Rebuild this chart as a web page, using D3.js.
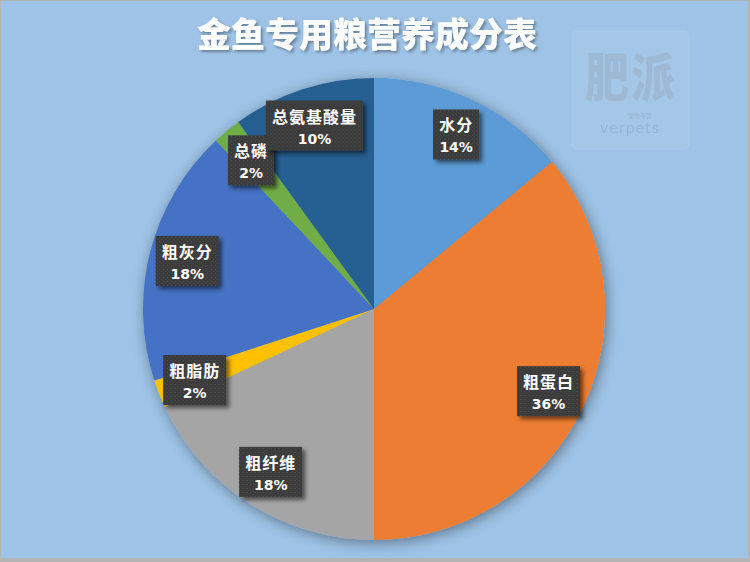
<!DOCTYPE html>
<meta charset="utf-8">
<head>
<style>
body { margin: 0; background: #b4b4b4; }
svg { display: block; }
.title {
  font-family: "Noto Sans CJK SC", sans-serif;
  font-weight: 900;
  font-size: 34px;
  fill: #fff;
  text-anchor: middle;
}
.lbl text {
  font-family: "Noto Sans CJK SC", sans-serif;
  font-weight: 700;
  fill: #fff;
  text-anchor: middle;
}
.lbl .name { font-size: 16px; letter-spacing: 1px; }
.lbl .pct { font-size: 14px; font-family: "DejaVu Sans", sans-serif; }
.wm text { font-family: "Noto Sans CJK SC", sans-serif; text-anchor: middle; }
</style>
</head>
<body>
<svg width="750" height="562"></svg>
<script src="https://cdn.jsdelivr.net/npm/d3@7"></script>
<script>

var names = ["水分", "粗蛋白", "粗纤维", "粗脂肪", "粗灰分", "总磷", "总氨基酸量"],
    values = [14, 36, 18, 2, 18, 2, 10],
    colors = ["#5b9bd5", "#ed7d31", "#a5a5a5", "#ffc000", "#4472c4", "#70ad47", "#255e91"];

var data = names.map(function(n, i) { return { name: n, value: values[i] }; });

var svg = d3.select("svg"),
    width = +svg.attr("width"),
    height = +svg.attr("height");

var defs = svg.append("defs");

var glow = defs.append("filter").attr("id", "glow")
    .attr("x", "-20%").attr("y", "-20%").attr("width", "140%").attr("height", "140%");
glow.append("feGaussianBlur").attr("in", "SourceAlpha").attr("stdDeviation", 7).attr("result", "b");
glow.append("feOffset").attr("in", "b").attr("dx", 2).attr("dy", 3).attr("result", "o");
glow.append("feComponentTransfer").attr("in", "o").attr("result", "s")
  .append("feFuncA").attr("type", "linear").attr("slope", 0.4);
var gm = glow.append("feMerge");
gm.append("feMergeNode").attr("in", "s");
gm.append("feMergeNode").attr("in", "SourceGraphic");

var tshadow = defs.append("filter").attr("id", "tshadow")
    .attr("x", "-10%").attr("y", "-30%").attr("width", "120%").attr("height", "160%");
tshadow.append("feDropShadow").attr("dx", 2).attr("dy", 2).attr("stdDeviation", 1.5)
    .attr("flood-color", "#000").attr("flood-opacity", 0.35);

var boxShadow = defs.append("filter").attr("id", "bshadow")
    .attr("x", "-20%").attr("y", "-20%").attr("width", "150%").attr("height", "150%");
boxShadow.append("feDropShadow").attr("dx", 3).attr("dy", 3).attr("stdDeviation", 2)
    .attr("flood-color", "#000").attr("flood-opacity", 0.55);

var pat = defs.append("pattern").attr("id", "dots")
    .attr("width", 4).attr("height", 4).attr("patternUnits", "userSpaceOnUse");
pat.append("rect").attr("width", 4).attr("height", 4).attr("fill", "#3a3a3a");
pat.append("rect").attr("width", 1).attr("height", 1).attr("fill", "#555");
pat.append("rect").attr("x", 2).attr("y", 2).attr("width", 1).attr("height", 1).attr("fill", "#4b4b4b");

// background
svg.append("rect")
    .attr("x", 1).attr("y", 1)
    .attr("width", width - 3).attr("height", height - 5)
    .attr("fill", "#9ec3e6");

// watermark
var wm = svg.append("g").attr("class", "wm").attr("opacity", 0.55);
wm.append("rect")
    .attr("x", 572).attr("y", 31).attr("width", 117).attr("height", 118).attr("rx", 5)
    .attr("fill", "#a9cbea").attr("stroke", "#b3d1ee");
wm.append("text")
    .attr("transform", "translate(631,97) scale(1,1.2)")
    .attr("font-size", 44).attr("font-weight", 900).attr("fill", "#9fb2c6")
    .attr("letter-spacing", 2).text("肥派");
wm.append("text").attr("x", 640).attr("y", 118)
    .attr("font-size", 6).attr("fill", "#8fa6bd").text("宠物专营");
wm.append("text").attr("x", 630).attr("y", 133)
    .attr("font-size", 14).attr("fill", "#8fa8c2").attr("letter-spacing", 1)
    .style("font-family", "DejaVu Sans").text("verpets");

// title
svg.append("text")
    .attr("class", "title")
    .attr("x", 367).attr("y", 47)
    .attr("filter", "url(#tshadow)")
    .text("金鱼专用粮营养成分表");

var cx = 374, cy = 309, radius = 231;

var pie = d3.pie().sort(null).value(function(d) { return d.value; });
var arcs = pie(data);

var arc = d3.arc().innerRadius(0).outerRadius(radius);
var labelArc = d3.arc().innerRadius(radius * 0.835).outerRadius(radius * 0.835);

var g = svg.append("g").attr("transform", "translate(" + cx + "," + cy + ")");

g.append("g").attr("filter", "url(#glow)")
  .selectAll("path")
    .data(arcs)
  .enter().append("path")
    .attr("d", arc)
    .attr("fill", function(d, i) { return colors[i]; });

var lbl = g.selectAll(".lbl")
    .data(arcs)
  .enter().append("g")
    .attr("class", "lbl")
    .attr("transform", function(d) { return "translate(" + labelArc.centroid(d) + ")"; });

lbl.append("rect")
    .attr("class", "box")
    .attr("filter", "url(#bshadow)")
    .attr("fill", "url(#dots)");

lbl.append("text")
    .attr("class", "name")
    .attr("y", -3)
    .text(function(d) { return d.data.name; });

lbl.append("text")
    .attr("class", "pct")
    .attr("y", 18)
    .text(function(d) {
      var total = d3.sum(values);
      return Math.round(d.data.value / total * 100) + "%";
    });

lbl.each(function() {
  var el = d3.select(this),
      w = el.select(".name").node().getComputedTextLength() + 12;
  el.select(".box")
    .attr("x", -w / 2).attr("y", -25)
    .attr("width", w).attr("height", 50);
});

</script>
</body>
